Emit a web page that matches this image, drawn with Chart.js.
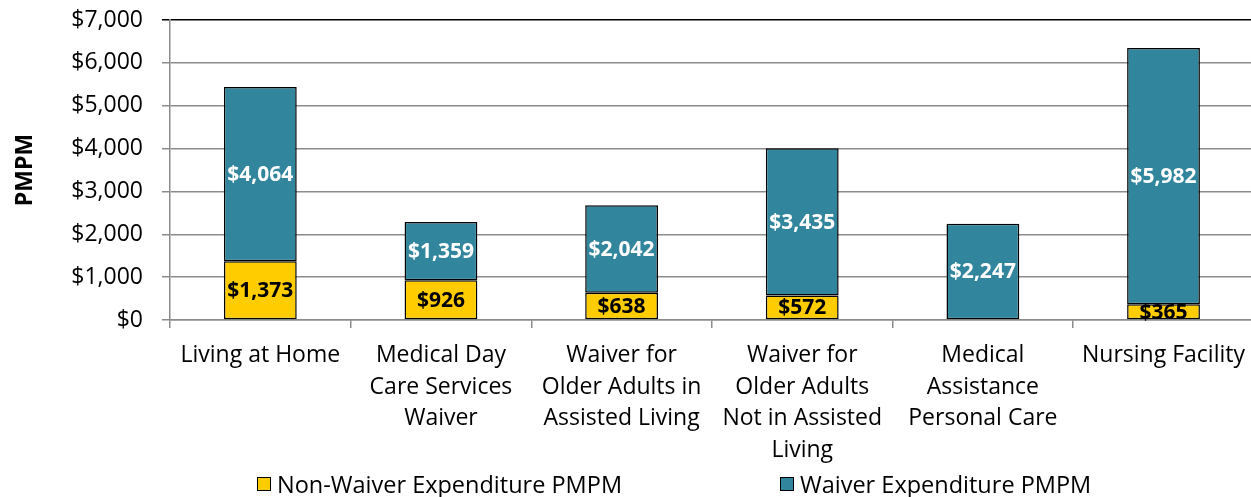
<!DOCTYPE html>
<html>
<head>
<meta charset="utf-8">
<script src="https://cdn.jsdelivr.net/npm/chart.js@4.4.1/dist/chart.umd.min.js"></script>
<style>
  body { margin: 0; background: #fff; }
  #wrap { position: relative; width: 1251px; height: 497px; overflow: hidden; }
  #legend { position: absolute; left: 0; top: 468px; width: 1251px; height: 29px; font-family: 'Open Sans', sans-serif; font-size: 23.5px; color: #000; }
  .lg-item { position: absolute; top: 0; display: flex; align-items: center; white-space: nowrap; }
  .lg-box { width: 12px; height: 12px; border: 1.5px solid #000; margin-right: 6px; }
</style>
</head>
<body>
<div id="wrap">
  <!-- el lienzo es un poco más ancho: el área del gráfico se corta a la derecha como en el original -->
  <canvas id="chart" width="1256" height="497"></canvas>
  <div id="legend"></div>
</div>
<script>
// datos
const categories = [
    ['Living at Home'],
    ['Medical Day', 'Care Services', 'Waiver'],
    ['Waiver for', 'Older Adults in', 'Assisted Living'],
    ['Waiver for', 'Older Adults', 'Not in Assisted', 'Living'],
    ['Medical', 'Assistance', 'Personal Care'],
    ['Nursing Facility']
];
const nonWaiver = [1373, 926, 638, 572, 0, 365];
const waiver = [4064, 1359, 2042, 3435, 2247, 5982];
const seriesNames = ['Non-Waiver Expenditure PMPM', 'Waiver Expenditure PMPM'];
const seriesColors = ['#FFCC00', '#31859C'];
const labelColors = ['#000000', '#FFFFFF'];
const yTicks = [0, 1000, 2000, 3000, 4000, 5000, 6000, 7000];

const fmt = v => '$' + v.toLocaleString('en-US');
const FONT = "'Open Sans', sans-serif";

// etiquetas de valor dentro de cada segmento
const valueLabels = {
    id: 'valueLabels',
    afterDatasetsDraw(chart) {
        const ctx = chart.ctx;
        ctx.save();
        ctx.font = 'bold 21px ' + FONT;
        ctx.textAlign = 'center';
        ctx.textBaseline = 'middle';
        chart.data.datasets.forEach((ds, i) => {
            const meta = chart.getDatasetMeta(i);
            meta.data.forEach((bar, j) => {
                const v = ds.data[j];
                if (!v) return;
                ctx.fillStyle = labelColors[i];
                ctx.fillText(fmt(v), bar.x, (bar.y + bar.base) / 2 + 1);
            });
        });
        ctx.restore();
    }
};

new Chart(document.getElementById('chart'), {
    type: 'bar',
    data: {
        labels: categories,
        datasets: seriesNames.map((name, i) => ({
            label: name,
            data: i === 0 ? nonWaiver : waiver,
            backgroundColor: seriesColors[i],
            borderColor: '#000',
            borderWidth: 1.5,
            borderSkipped: false,
            barPercentage: 0.403,
            categoryPercentage: 1
        }))
    },
    options: {
        responsive: false,
        animation: false,
        layout: { padding: { top: 20, right: 0, left: 0, bottom: 0 } },
        plugins: {
            legend: { display: false },
            tooltip: { enabled: false }
        },
        scales: {
            x: {
                stacked: true,
                afterFit: s => { s.height = 177; },
                border: { color: '#8c8c8c', width: 1.5 },
                grid: { offset: true, drawOnChartArea: false, drawTicks: true, tickLength: 8, color: '#8c8c8c', lineWidth: 1.5 },
                ticks: { color: '#000', font: { family: FONT, size: 23, lineHeight: 1.39 }, padding: 11, maxRotation: 0, autoSkip: false }
            },
            y: {
                stacked: true,
                min: 0,
                max: 7000,
                // ancho fijo y sin relleno extra arriba/abajo
                afterFit: s => { s.width = 170; s.paddingTop = 0; s.paddingBottom = 0; },
                afterBuildTicks: s => { s.ticks = yTicks.map(v => ({ value: v })); },
                border: { color: '#8c8c8c', width: 1.5 },
                grid: {
                    color: c => c.tick && c.tick.value === 7000 ? '#000' : '#8c8c8c',
                    lineWidth: 1.5,
                    tickLength: 8
                },
                ticks: { color: '#000', font: { family: FONT, size: 23 }, padding: 19, callback: v => fmt(v) },
                title: { display: true, text: 'PMPM', color: '#000', font: { family: FONT, size: 23, weight: 'bold' }, padding: { top: 12 } }
            }
        }
    },
    plugins: [valueLabels]
});

// leyenda en HTML
const legendEl = document.getElementById('legend');
const legendX = [257, 780];
seriesNames.forEach((name, i) => {
    const item = document.createElement('div');
    item.className = 'lg-item';
    item.style.left = legendX[i] + 'px';
    item.innerHTML = `<span class="lg-box" style="background:${seriesColors[i]}"></span><span>${name}</span>`;
    legendEl.appendChild(item);
});
</script>
</body>
</html>
